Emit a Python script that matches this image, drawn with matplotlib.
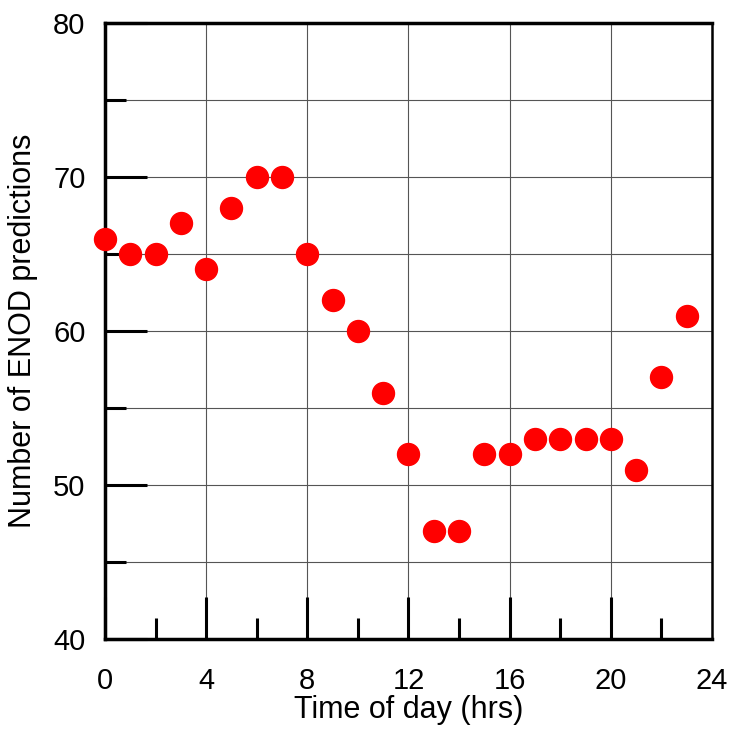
import matplotlib
matplotlib.use("Agg")
import matplotlib.pyplot as plt
from matplotlib.ticker import MultipleLocator

plt.rcParams["font.family"] = ["Liberation Sans", "DejaVu Sans"]

hours = list(range(24))
predictions = [66, 65, 65, 67, 64, 68, 70, 70, 65, 62, 60, 56,
               52, 47, 47, 52, 52, 53, 53, 53, 53, 51, 57, 61]
x_ticks = [0, 4, 8, 12, 16, 20, 24]

fig = plt.figure(figsize=(7.30, 7.29), dpi=100)
ax = fig.add_axes([0.1438, 0.1235, 0.8315, 0.845])

ax.scatter(hours, predictions, s=250, color="#ff0000", zorder=3, clip_on=False)

ax.set_xlim(0, 24)
ax.set_ylim(40, 80)
ax.set_xticks(x_ticks)
ax.xaxis.set_minor_locator(MultipleLocator(2))
ax.yaxis.set_major_locator(MultipleLocator(10))
ax.yaxis.set_minor_locator(MultipleLocator(5))

# vertical grid only at major x ticks, horizontal at every 5
ax.xaxis.grid(True, which="major", color="#555555", linewidth=0.8)
ax.yaxis.grid(True, which="both", color="#555555", linewidth=0.8)

ax.tick_params(which="major", direction="in", length=30, width=2.2,
               labelsize=21, colors="black")
ax.tick_params(which="minor", direction="in", length=15, width=2.2)
ax.tick_params(axis="x", which="major", pad=20)
ax.tick_params(axis="y", which="major", pad=14)
ax.tick_params(top=False, right=False, which="both")
# no inward tick mark at the right edge (24)
ax.xaxis.get_major_ticks()[-1].tick1line.set_visible(False)

for side in ["left", "bottom", "top"]:
    ax.spines[side].set_linewidth(2.5)
ax.spines["right"].set_linewidth(1.8)

ax.set_xlabel("Time of day (hrs)", fontsize=22, labelpad=0)
ax.set_ylabel("Number of ENOD predictions", fontsize=22, labelpad=11)

fig.savefig("out.png", dpi=100)
